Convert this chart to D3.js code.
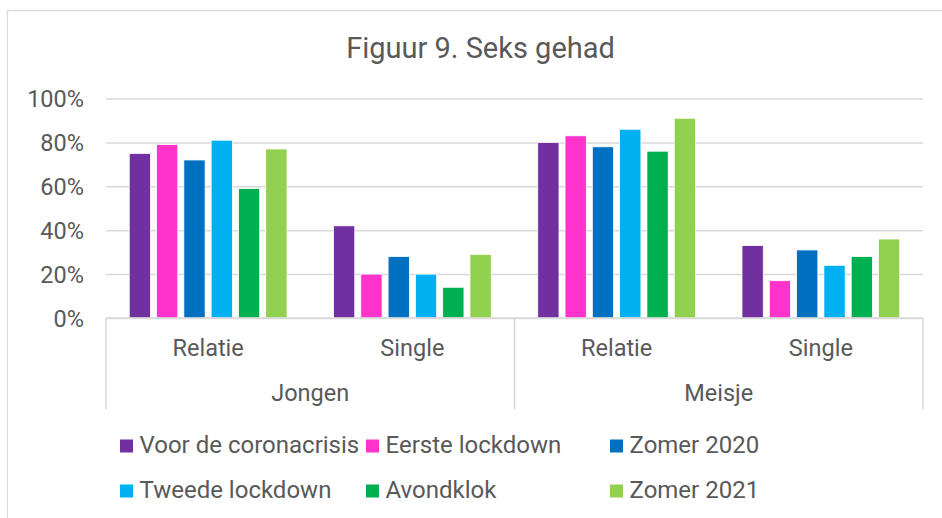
<!DOCTYPE html>
<html>
<head>
<meta charset="utf-8">
<script src="https://cdn.jsdelivr.net/npm/d3@7"></script>
<style>
  html, body { margin: 0; padding: 0; background: #fff; }
  svg { display: block; font-family: Roboto, "Noto Sans", sans-serif; }
</style>
</head>
<body>
<svg id="chart" width="942" height="518"></svg>
<script>
// ---- data ----
const title = "Figuur 9. Seks gehad";
const genders = ["Jongen", "Meisje"];
const statuses = ["Relatie", "Single"];
const seriesNames = ["Voor de coronacrisis", "Eerste lockdown", "Zomer 2020", "Tweede lockdown", "Avondklok", "Zomer 2021"];
const seriesColors = ["#7030A0", "#FF33CC", "#0070C0", "#00B0F0", "#00B050", "#92D050"];
// values in order: Jongen-Relatie, Jongen-Single, Meisje-Relatie, Meisje-Single
const voorDeCoronacrisis = [0.75, 0.42, 0.80, 0.33];
const eersteLockdown     = [0.79, 0.20, 0.83, 0.17];
const zomer2020          = [0.72, 0.28, 0.78, 0.31];
const tweedeLockdown     = [0.81, 0.20, 0.86, 0.24];
const avondklok          = [0.59, 0.14, 0.76, 0.28];
const zomer2021          = [0.77, 0.29, 0.91, 0.36];
const yTicks = [0, 0.2, 0.4, 0.6, 0.8, 1.0];

const seriesValues = [voorDeCoronacrisis, eersteLockdown, zomer2020, tweedeLockdown, avondklok, zomer2021];

(function () {
// ---- layout ----
const svg = d3.select("#chart");
const textColor = "#595959";
const gridColor = "#d9d9d9";
const plotLeft = 106, plotRight = 923, plotTop = 98.5, plotBottom = 318;

// outer border
svg.append("rect").attr("x", 7.5).attr("y", 10.5).attr("width", 960).attr("height", 560)
  .attr("fill", "none").attr("stroke", gridColor).attr("stroke-width", 1.2);

svg.append("text").attr("x", 480.5).attr("y", 58).attr("text-anchor", "middle")
  .attr("font-size", 29).attr("fill", textColor).text(title);

const y = d3.scaleLinear().domain([0, 1]).range([plotBottom, plotTop]);
const xG = d3.scaleBand().domain(genders).range([plotLeft, plotRight]);
const xS = d3.scaleBand().domain(statuses).range([0, xG.bandwidth()]);
const xB = d3.scaleBand().domain(seriesNames).range([0, xS.bandwidth()])
  .paddingInner(0.22).paddingOuter(0.851);

// y axis with gridlines
const yAxis = d3.axisLeft(y).tickValues(yTicks).tickFormat(d3.format(".0%"))
  .tickSize(-(plotRight - plotLeft)).tickPadding(22);
const gy = svg.append("g").attr("transform", `translate(${plotLeft},0)`).call(yAxis);
gy.select(".domain").remove();
gy.selectAll(".tick line").attr("stroke", gridColor).attr("stroke-width", 1.5);
gy.selectAll(".tick text").attr("font-size", 23.5).attr("fill", textColor)
  .attr("font-family", "Roboto, sans-serif").attr("dy", "0.36em");

// bars
const rows = [];
genders.forEach((g, gi) => statuses.forEach((s, si) => {
  const idx = gi * statuses.length + si;
  seriesNames.forEach((name, k) => {
    rows.push({ g, s, name, color: seriesColors[k], v: seriesValues[k][idx] });
  });
}));
svg.append("g").selectAll("rect").data(rows).join("rect")
  .attr("x", d => xG(d.g) + xS(d.s) + xB(d.name))
  .attr("y", d => y(d.v))
  .attr("width", xB.bandwidth())
  .attr("height", d => y(0) - y(d.v))
  .attr("fill", d => d.color)
  .attr("stroke", "#ffffff").attr("stroke-width", 0.8);

// category axis
const axisBottomY = 409;
svg.append("line").attr("x1", plotLeft).attr("x2", plotRight).attr("y1", plotBottom).attr("y2", plotBottom)
  .attr("stroke", gridColor).attr("stroke-width", 1.5);
const seps = [plotLeft].concat(genders.map(g => xG(g) + xG.bandwidth()));
svg.append("g").selectAll("line").data(seps).join("line")
  .attr("x1", d => d).attr("x2", d => d).attr("y1", plotBottom).attr("y2", axisBottomY)
  .attr("stroke", gridColor).attr("stroke-width", 1.5);

const statusLabels = [];
genders.forEach(g => statuses.forEach(s => statusLabels.push({ g, s })));
svg.append("g").selectAll("text").data(statusLabels).join("text")
  .attr("x", d => xG(d.g) + xS(d.s) + xS.bandwidth() / 2)
  .attr("y", 356).attr("text-anchor", "middle")
  .attr("font-size", 23.5).attr("fill", textColor).text(d => d.s);
svg.append("g").selectAll("text").data(genders).join("text")
  .attr("x", d => xG(d) + xG.bandwidth() / 2)
  .attr("y", 401).attr("text-anchor", "middle")
  .attr("font-size", 23.5).attr("fill", textColor).text(d => d);

// legend
const legendCols = [120, 366, 610];
const legendRows = [452.5, 497.5];
const lg = svg.append("g").selectAll("g").data(seriesNames).join("g")
  .attr("transform", (d, i) => `translate(${legendCols[i % 3]},${legendRows[Math.floor(i / 3)]})`);
lg.append("rect").attr("x", 0).attr("y", -13).attr("width", 13).attr("height", 13)
  .attr("fill", (d, i) => seriesColors[i]);
lg.append("text").attr("x", 19.5).attr("y", 0).attr("font-size", 24)
  .attr("fill", textColor).text(d => d);
})();
</script>
</body>
</html>
